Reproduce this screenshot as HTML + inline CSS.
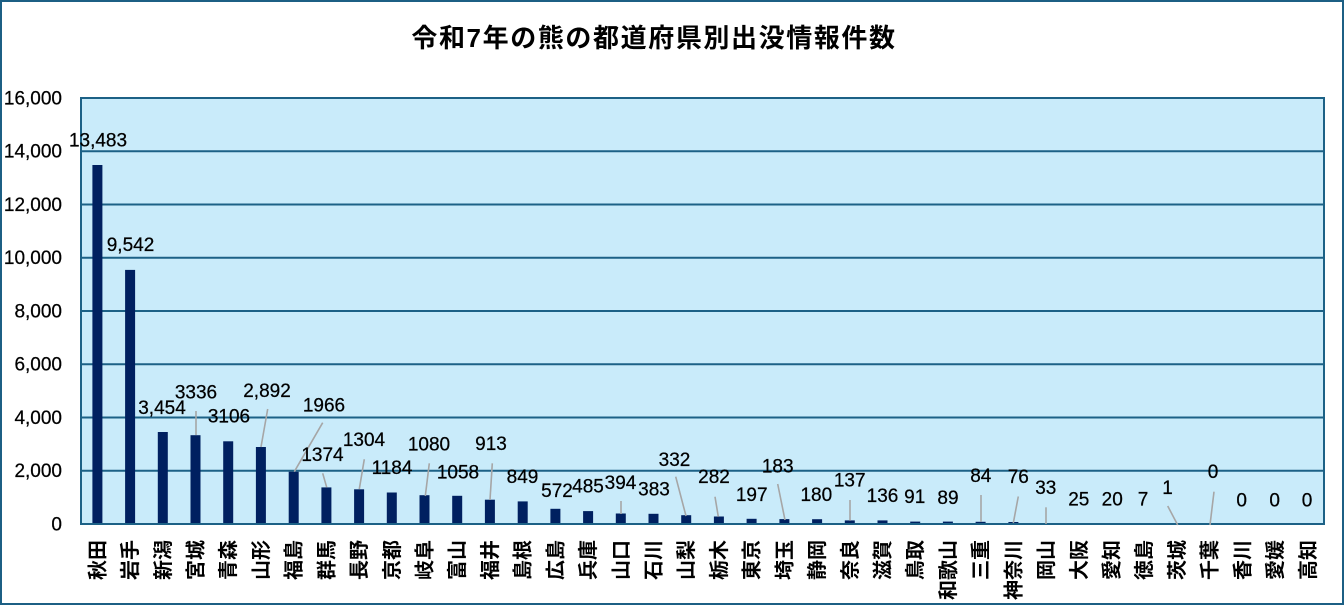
<!DOCTYPE html>
<html>
<head>
<meta charset="utf-8">
<style>
  html,body{margin:0;padding:0;background:#fff;}
  body{width:1344px;height:605px;overflow:hidden;}
  svg{display:block;}
  .dl{font-family:"Liberation Sans","Noto Sans CJK JP",sans-serif;font-size:19px;fill:#000;text-anchor:middle;stroke:#000;stroke-width:0.25;}
  .tk{font-family:"Liberation Sans",sans-serif;font-size:19px;fill:#000;text-anchor:end;stroke:#000;stroke-width:0.25;}
  .cat{font-family:"Liberation Sans","Noto Sans CJK JP",sans-serif;font-size:20px;font-weight:bold;fill:#000;text-anchor:end;dominant-baseline:central;}
  .ttl{font-family:"Liberation Sans","Noto Sans CJK JP",sans-serif;font-size:26px;font-weight:bold;fill:#000;text-anchor:middle;letter-spacing:1.6px;}
  .ld{stroke:#a6a6a6;stroke-width:1.6;}
</style>
</head>
<body>
<svg width="1344" height="605" viewBox="0 0 1344 605" xmlns="http://www.w3.org/2000/svg">
  <rect x="1" y="1" width="1342" height="603" fill="#fff" stroke="#1c5f84" stroke-width="2"/>
  <text class="ttl" x="654" y="47">令和7年の熊の都道府県別出没情報件数</text>

  <!-- plot area -->
  <rect x="81" y="98" width="1243" height="426" fill="#c9ebfa"/>
  <g stroke="#1c6186" stroke-width="2">
    <line x1="81" y1="151.25" x2="1324" y2="151.25"/>
    <line x1="81" y1="204.5" x2="1324" y2="204.5"/>
    <line x1="81" y1="257.75" x2="1324" y2="257.75"/>
    <line x1="81" y1="311" x2="1324" y2="311"/>
    <line x1="81" y1="364.25" x2="1324" y2="364.25"/>
    <line x1="81" y1="417.5" x2="1324" y2="417.5"/>
    <line x1="81" y1="470.75" x2="1324" y2="470.75"/>
  </g>

  <!-- bars -->
  <g fill="#002060">
    <rect x="92.4" y="165.0" width="10" height="359"/>
    <rect x="125.1" y="269.9" width="10" height="254.1"/>
    <rect x="157.8" y="432.0" width="10" height="92"/>
    <rect x="190.5" y="435.2" width="10" height="88.8"/>
    <rect x="223.2" y="441.3" width="10" height="82.7"/>
    <rect x="255.9" y="447.0" width="10" height="77"/>
    <rect x="288.7" y="471.7" width="10" height="52.3"/>
    <rect x="321.4" y="487.4" width="10" height="36.6"/>
    <rect x="354.1" y="489.3" width="10" height="34.7"/>
    <rect x="386.8" y="492.5" width="10" height="31.5"/>
    <rect x="419.5" y="495.2" width="10" height="28.8"/>
    <rect x="452.2" y="495.8" width="10" height="28.2"/>
    <rect x="484.9" y="499.7" width="10" height="24.3"/>
    <rect x="517.7" y="501.4" width="10" height="22.6"/>
    <rect x="550.4" y="508.8" width="10" height="15.2"/>
    <rect x="583.1" y="511.1" width="10" height="12.9"/>
    <rect x="615.8" y="513.5" width="10" height="10.5"/>
    <rect x="648.5" y="513.8" width="10" height="10.2"/>
    <rect x="681.2" y="515.2" width="10" height="8.8"/>
    <rect x="713.9" y="516.5" width="10" height="7.5"/>
    <rect x="746.6" y="518.8" width="10" height="5.2"/>
    <rect x="779.4" y="519.1" width="10" height="4.9"/>
    <rect x="812.1" y="519.2" width="10" height="4.8"/>
    <rect x="844.8" y="520.4" width="10" height="3.6"/>
    <rect x="877.5" y="520.4" width="10" height="3.6"/>
    <rect x="910.2" y="521.6" width="10" height="2.4"/>
    <rect x="942.9" y="521.6" width="10" height="2.4"/>
    <rect x="975.6" y="521.8" width="10" height="2.2"/>
    <rect x="1008.4" y="522.0" width="10" height="2"/>
    <rect x="1041.1" y="523.1" width="10" height="0.9"/>
    <rect x="1073.8" y="523.3" width="10" height="0.7"/>
    <rect x="1106.5" y="523.5" width="10" height="0.5"/>
  </g>

  <!-- plot border -->
  <rect x="81" y="98" width="1243" height="426" fill="none" stroke="#1c6186" stroke-width="2"/>

  <!-- leader lines -->
  <g class="ld">
    <line x1="196" y1="411" x2="196" y2="435"/>
    <line x1="267.7" y1="409" x2="261" y2="447"/>
    <line x1="322.7" y1="422.7" x2="294.3" y2="471.7"/>
    <line x1="322.7" y1="473.3" x2="326.7" y2="487.3"/>
    <line x1="364.3" y1="459.3" x2="359.3" y2="489"/>
    <line x1="429.3" y1="463.3" x2="425.3" y2="496"/>
    <line x1="492.3" y1="463.3" x2="490" y2="500"/>
    <line x1="621" y1="501" x2="621" y2="514"/>
    <line x1="675.7" y1="476.7" x2="686" y2="516"/>
    <line x1="715" y1="496.7" x2="718.3" y2="516.7"/>
    <line x1="777.7" y1="484" x2="785" y2="520"/>
    <line x1="850" y1="500" x2="850" y2="520.7"/>
    <line x1="981" y1="495" x2="981" y2="521.7"/>
    <line x1="1018.3" y1="496.5" x2="1013.3" y2="523"/>
    <line x1="1046" y1="507.3" x2="1046" y2="524"/>
    <line x1="1167.7" y1="506" x2="1177.7" y2="525"/>
    <line x1="1214" y1="491.7" x2="1210" y2="525"/>
  </g>

  <!-- y tick labels -->
  <g class="tk">
    <text x="62" y="104.3">16,000</text>
    <text x="62" y="157.5">14,000</text>
    <text x="62" y="210.8">12,000</text>
    <text x="62" y="264">10,000</text>
    <text x="62" y="317.3">8,000</text>
    <text x="62" y="370.5">6,000</text>
    <text x="62" y="423.8">4,000</text>
    <text x="62" y="477">2,000</text>
    <text x="62" y="530.3">0</text>
  </g>

  <!-- data labels -->
  <g class="dl">
    <text x="98" y="146.3">13,483</text>
    <text x="130.5" y="250.8">9,542</text>
    <text x="162" y="413.8">3,454</text>
    <text x="196" y="398.3">3336</text>
    <text x="229" y="422.3">3106</text>
    <text x="267" y="396.8">2,892</text>
    <text x="324" y="411.3">1966</text>
    <text x="322.5" y="460.8">1374</text>
    <text x="364" y="445.8">1304</text>
    <text x="392" y="473.8">1184</text>
    <text x="429" y="450.3">1080</text>
    <text x="458" y="478.3">1058</text>
    <text x="491" y="449.8">913</text>
    <text x="522.5" y="482.8">849</text>
    <text x="557" y="496.8">572</text>
    <text x="588" y="492.5">485</text>
    <text x="620.5" y="488.8">394</text>
    <text x="654" y="495.5">383</text>
    <text x="674.5" y="465.8">332</text>
    <text x="714" y="482.8">282</text>
    <text x="751.7" y="500.8">197</text>
    <text x="777.7" y="472.5">183</text>
    <text x="816.3" y="500.8">180</text>
    <text x="849.7" y="486.5">137</text>
    <text x="882.5" y="502.1">136</text>
    <text x="914.7" y="502.8">91</text>
    <text x="948" y="503.8">89</text>
    <text x="980.8" y="482.1">84</text>
    <text x="1018.3" y="483.1">76</text>
    <text x="1045.8" y="493.8">33</text>
    <text x="1078.8" y="505.5">25</text>
    <text x="1112.2" y="505.5">20</text>
    <text x="1143" y="505.5">7</text>
    <text x="1167.5" y="493.8">1</text>
    <text x="1213" y="478.1">0</text>
    <text x="1241.7" y="506.5">0</text>
    <text x="1274.7" y="506.5">0</text>
    <text x="1307" y="506.5">0</text>
  </g>

  <!-- category labels (rotated) -->
  <g class="cat">
    <text transform="translate(98.4,540) rotate(-90)">秋田</text>
    <text transform="translate(131.1,540) rotate(-90)">岩手</text>
    <text transform="translate(163.8,540) rotate(-90)">新潟</text>
    <text transform="translate(196.5,540) rotate(-90)">宮城</text>
    <text transform="translate(229.2,540) rotate(-90)">青森</text>
    <text transform="translate(261.9,540) rotate(-90)">山形</text>
    <text transform="translate(294.7,540) rotate(-90)">福島</text>
    <text transform="translate(327.4,540) rotate(-90)">群馬</text>
    <text transform="translate(360.1,540) rotate(-90)">長野</text>
    <text transform="translate(392.8,540) rotate(-90)">京都</text>
    <text transform="translate(425.5,540) rotate(-90)">岐阜</text>
    <text transform="translate(458.2,540) rotate(-90)">富山</text>
    <text transform="translate(490.9,540) rotate(-90)">福井</text>
    <text transform="translate(523.7,540) rotate(-90)">島根</text>
    <text transform="translate(556.4,540) rotate(-90)">広島</text>
    <text transform="translate(589.1,540) rotate(-90)">兵庫</text>
    <text transform="translate(621.8,540) rotate(-90)">山口</text>
    <text transform="translate(654.5,540) rotate(-90)">石川</text>
    <text transform="translate(687.2,540) rotate(-90)">山梨</text>
    <text transform="translate(719.9,540) rotate(-90)">栃木</text>
    <text transform="translate(752.6,540) rotate(-90)">東京</text>
    <text transform="translate(785.4,540) rotate(-90)">埼玉</text>
    <text transform="translate(818.1,540) rotate(-90)">静岡</text>
    <text transform="translate(850.8,540) rotate(-90)">奈良</text>
    <text transform="translate(883.5,540) rotate(-90)">滋賀</text>
    <text transform="translate(916.2,540) rotate(-90)">鳥取</text>
    <text transform="translate(948.9,540) rotate(-90)">和歌山</text>
    <text transform="translate(981.6,540) rotate(-90)">三重</text>
    <text transform="translate(1014.4,540) rotate(-90)">神奈川</text>
    <text transform="translate(1047.1,540) rotate(-90)">岡山</text>
    <text transform="translate(1079.8,540) rotate(-90)">大阪</text>
    <text transform="translate(1112.5,540) rotate(-90)">愛知</text>
    <text transform="translate(1145.2,540) rotate(-90)">徳島</text>
    <text transform="translate(1177.9,540) rotate(-90)">茨城</text>
    <text transform="translate(1210.6,540) rotate(-90)">千葉</text>
    <text transform="translate(1243.4,540) rotate(-90)">香川</text>
    <text transform="translate(1276.1,540) rotate(-90)">愛媛</text>
    <text transform="translate(1308.8,540) rotate(-90)">高知</text>
  </g>
</svg>
</body>
</html>
